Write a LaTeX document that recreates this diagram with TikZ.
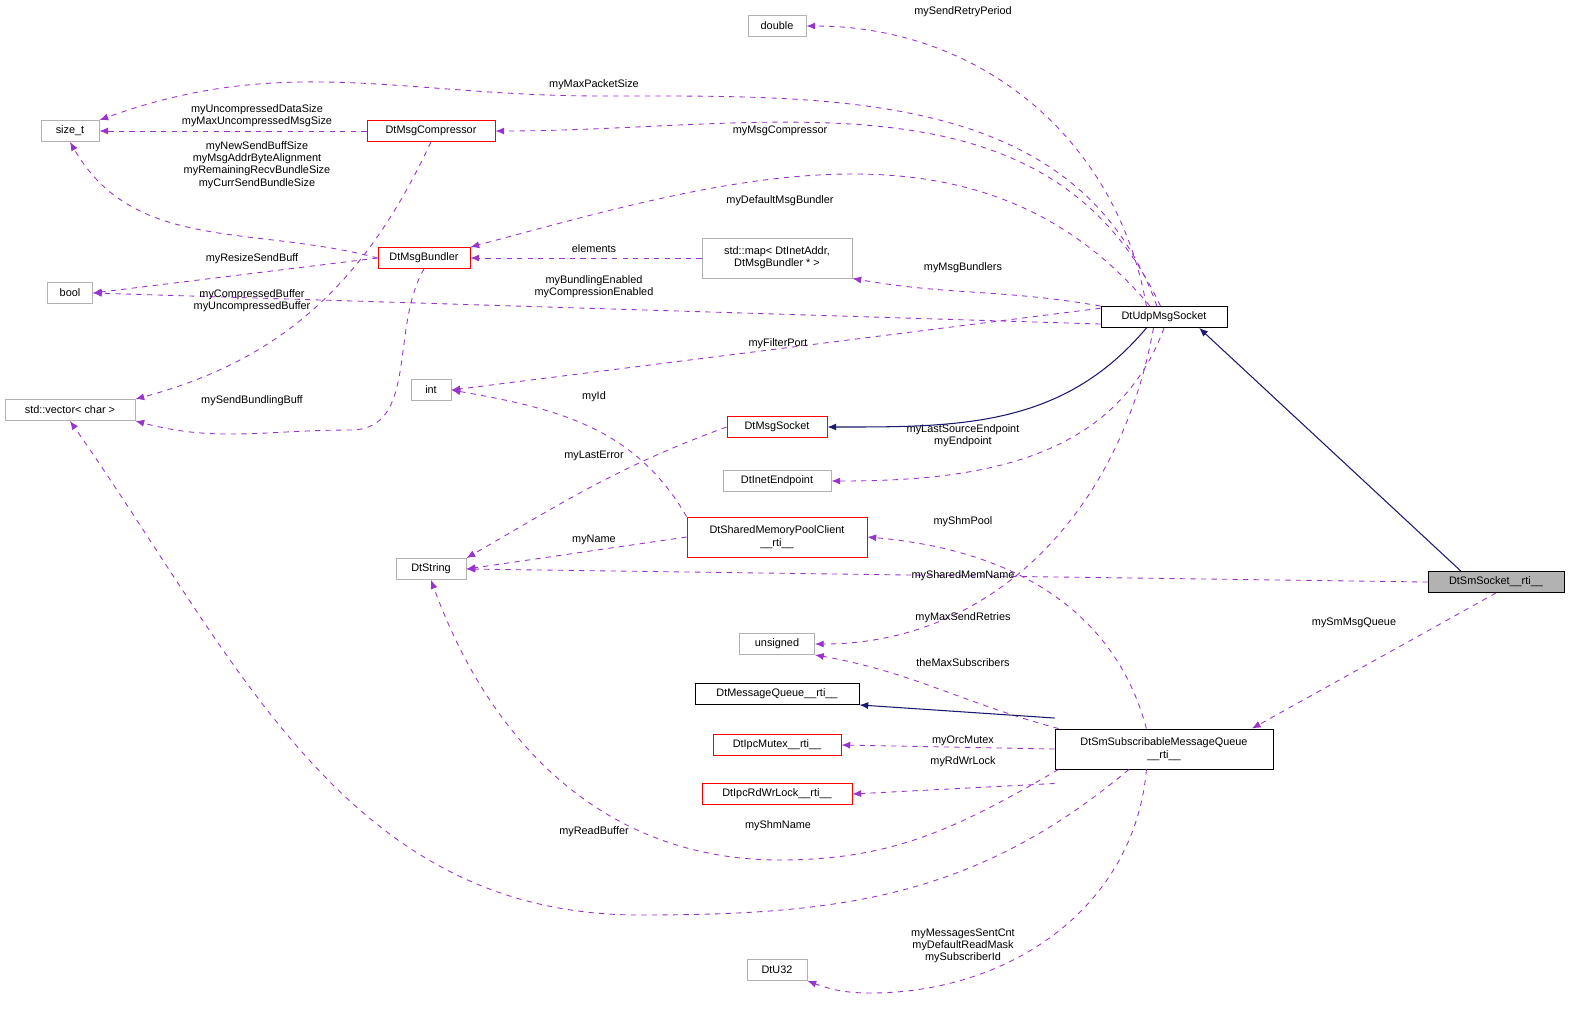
\documentclass[tikz,border=0pt]{standalone}
\usepackage{fontspec}
\setmainfont{Liberation Sans}
\usetikzlibrary{arrows.meta, positioning}
\definecolor{orchid}{RGB}{154,50,205}
\definecolor{navy}{RGB}{25,25,112}

\begin{document}
\begin{tikzpicture}[x=0.02cm, y=-0.02cm, font=\fontsize{6.2}{7}\selectfont]
    % Styles
    \tikzstyle{cls} = [rectangle, draw, line width=0.5pt, minimum height=0.42cm, inner sep=1.5pt, align=center]
    \tikzstyle{ext} = [cls, draw=black!30]
    \tikzstyle{red} = [cls, draw=red]
    \tikzstyle{std} = [cls, draw=black]
    \tikzstyle{coll} = [draw, dashed, line width=0.5pt, orchid, -{Latex[length=5pt, width=4pt]}]
    \tikzstyle{inh} = [draw, line width=0.6pt, navy, -{Latex[length=5pt, width=4pt]}]
    \tikzstyle{lbl} = [align=center, inner sep=0pt, text=black]
    \useasboundingbox (0,0) rectangle (1589,1012);

    % Nodes
    \node [ext, minimum width=1.16cm] (dbl) at (777,26) {double};
    \node [ext, minimum width=1.16cm] (sizet) at (70,131) {size\_t};
    \node [red, minimum width=2.56cm] (comp) at (431,131) {DtMsgCompressor};
    \node [red, minimum width=1.84cm] (bund) at (424,258) {DtMsgBundler};
    \node [ext, minimum width=3.0cm, minimum height=0.8cm] (map) at (777,258) {std::map\textless{} DtInetAddr,\\DtMsgBundler * \textgreater};
    \node [ext, minimum width=0.9cm] (bool) at (70,293) {bool};
    \node [std, minimum width=2.52cm] (udp) at (1164,317) {DtUdpMsgSocket};
    \node [ext, minimum width=0.8cm] (int) at (431,390) {int};
    \node [ext, minimum width=2.6cm] (vec) at (70,410) {std::vector\textless{} char \textgreater};
    \node [red, minimum width=2.0cm] (sock) at (777,427) {DtMsgSocket};
    \node [ext, minimum width=2.16cm] (inet) at (777,481) {DtInetEndpoint};
    \node [red, minimum width=3.6cm, minimum height=0.8cm] (pool) at (777,537) {DtSharedMemoryPoolClient\\\_\_rti\_\_};
    \node [ext, minimum width=1.4cm] (str) at (431,569) {DtString};
    \node [std, fill=black!30, minimum width=2.72cm] (sms) at (1496,582) {DtSmSocket\_\_rti\_\_};
    \node [ext, minimum width=1.5cm] (uns) at (777,644) {unsigned};
    \node [std, minimum width=3.28cm] (mq) at (777,694) {DtMessageQueue\_\_rti\_\_};
    \node [std, minimum width=4.36cm, minimum height=0.8cm] (sub) at (1164,749) {DtSmSubscribableMessageQueue\\\_\_rti\_\_};
    \node [red, minimum width=2.56cm] (mtx) at (777,745) {DtIpcMutex\_\_rti\_\_};
    \node [red, minimum width=3.0cm] (rdwr) at (777,794) {DtIpcRdWrLock\_\_rti\_\_};
    \node [ext, minimum width=1.2cm] (u32) at (777,970) {DtU32};

    % Paths: DtUdpMsgSocket members
    \draw [coll] ([xshift=-10]udp.north) to [out=100, in=0] (dbl) node [lbl] at (963,12) {mySendRetryPeriod};
    \draw [coll] ([xshift=-4]udp.north) to [out=110, in=0] (600,96) to [out=180, in=20] (sizet.north east) node [lbl] at (594,85) {myMaxPacketSize};
    \draw [coll] ([xshift=-2]udp.north) to [out=115, in=0] (comp) node [lbl] at (780,131) {myMsgCompressor};
    \draw [coll] ([xshift=-8]udp.north) to [out=130, in=15] (bund.north east) node [lbl] at (780,201) {myDefaultMsgBundler};
    \draw [coll] (udp.north west) to [out=170, in=-10] (map.south east) node [lbl] at (963,268) {myMsgBundlers};
    \draw [coll] ([yshift=-4]udp.west) -- (bool.east) node [lbl] at (594,287) {myBundlingEnabled\\myCompressionEnabled};
    \draw [coll] ([yshift=5]udp.west) -- (int.east) node [lbl] at (778,344) {myFilterPort};
    \draw [coll] (udp.south) to [out=-110, in=0] (inet.east) node [lbl] at (963,436) {myLastSourceEndpoint\\myEndpoint};
    \draw [coll] ([xshift=-6]udp.south) to [out=-100, in=0] (uns.east) node [lbl] at (963,618) {myMaxSendRetries};

    % Paths: compressor and bundler members
    \draw [coll] (comp) -- (sizet) node [lbl] at (257,116) {myUncompressedDataSize\\myMaxUncompressedMsgSize};
    \draw [coll] (bund.west) to [out=165, in=-60] (sizet.south) node [lbl] at (257,165) {myNewSendBuffSize\\myMsgAddrByteAlignment\\myRemainingRecvBundleSize\\myCurrSendBundleSize};
    \draw [coll] (map.west) -- (bund.east) node [lbl] at (594,249) {elements};
    \draw [coll] (bund.west) -- (bool.east) node [lbl] at (252,259) {myResizeSendBuff};
    \draw [coll] (comp.south) to [out=-115, in=15] (vec.north east) node [lbl] at (252,301) {myCompressedBuffer\\myUncompressedBuffer};
    \draw [coll] (bund.south) to [out=-120, in=0] (350,430) to [out=180, in=-15] (vec.south east) node [lbl] at (252,401) {mySendBundlingBuff};

    % Paths: socket and pool
    \draw [inh] ([xshift=-10]udp.south) to [out=-130, in=0] (sock.east);
    \draw [coll] (sock.west) to [out=-160, in=30] (str.north east) node [lbl] at (594,456) {myLastError};
    \draw [coll] (pool.north west) to [out=120, in=-10] (int.east) node [lbl] at (594,397) {myId};
    \draw [coll] (pool.west) -- (str.east) node [lbl] at (594,540) {myName};

    % Paths: DtSmSocket__rti__
    \draw [inh] ([xshift=-20]sms.north) -- ([xshift=20]udp.south);
    \draw [coll] (sms.west) -- (str.east) node [lbl] at (963,576) {mySharedMemName};
    \draw [coll] (sms.south) -- ([xshift=50]sub.north) node [lbl] at (1354,623) {mySmMsgQueue};

    % Paths: DtSmSubscribableMessageQueue__rti__
    \draw [coll] ([xshift=-10]sub.north) to [out=105, in=-5] (pool.east) node [lbl] at (963,522) {myShmPool};
    \draw [coll] ([xshift=-60]sub.north) to [out=165, in=-10] (uns.south east) node [lbl] at (963,663) {theMaxSubscribers};
    \draw [inh] ([yshift=6]sub.north west) -- (mq.south east);
    \draw [coll] (sub.west) -- (mtx.east) node [lbl] at (963,741) {myOrcMutex};
    \draw [coll] ([yshift=-8]sub.south west) -- (rdwr.east) node [lbl] at (963,762) {myRdWrLock};
    \draw [coll] ([xshift=-60]sub.south) to [out=-150, in=0] (780,860) to [out=180, in=-70] (str.south) node [lbl] at (778,826) {myShmName};
    \draw [coll] ([xshift=-20]sub.south) to [out=-140, in=0] (640,915) to [out=180, in=-55] (vec.south) node [lbl] at (594,832) {myReadBuffer};
    \draw [coll] ([xshift=-10]sub.south) to [out=-95, in=0] (870,993) to [out=180, in=-20] (u32.south east) node [lbl] at (963,946) {myMessagesSentCnt\\myDefaultReadMask\\mySubscriberId};
\end{tikzpicture}
\end{document}
